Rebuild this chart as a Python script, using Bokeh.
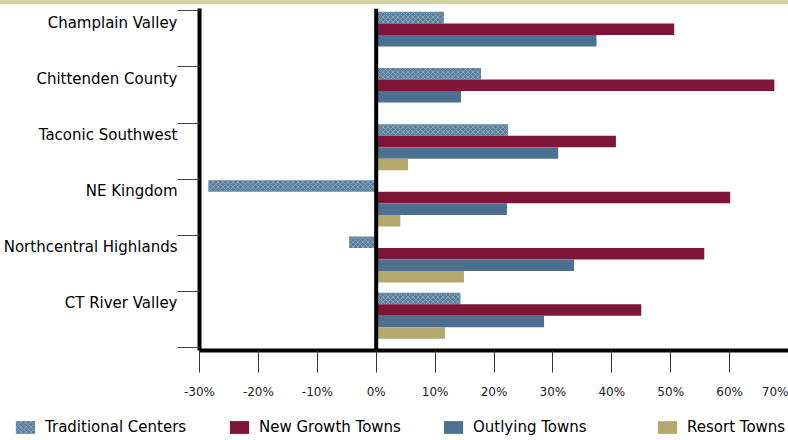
from bokeh.plotting import figure
from bokeh.models import (Range1d, FixedTicker, PrintfTickFormatter, Span, Legend,
                          LegendItem, Div, ColumnDataSource)
from bokeh.layouts import column, row
from bokeh.embed import file_html
from bokeh.resources import INLINE

# ---- data -------------------------------------------------------------
regions = ["Champlain Valley", "Chittenden County", "Taconic Southwest",
           "NE Kingdom", "Northcentral Highlands", "CT River Valley"]
series = ["Traditional Centers", "New Growth Towns", "Outlying Towns", "Resort Towns"]
traditional = [11.5, 17.8, 22.4, -28.5, -4.6, 14.3]
new_growth = [50.6, 67.6, 40.7, 60.1, 55.7, 45.0]
outlying = [37.4, 14.4, 30.9, 22.2, 33.6, 28.5]
resort = [0.0, 0.0, 5.4, 4.1, 14.9, 11.7]
x_ticks = [-30, -20, -10, 0, 10, 20, 30, 40, 50, 60, 70]

# ---- style ------------------------------------------------------------
colors = ["#5D809E", "#7E1638", "#4C7090", "#B4A86C"]
hatch = dict(hatch_pattern="x", hatch_color="#A9BCCB", hatch_scale=5,
             hatch_weight=1, hatch_alpha=0.5)
FONT = "DejaVu Sans"
bar_h = 0.205
bar_top = 0.02

p = figure(width=788, height=406, output_backend="svg", toolbar_location=None,
           x_range=Range1d(-30, 70), y_range=Range1d(6.05, -0.04),
           min_border_left=196, min_border_right=0, min_border_top=4,
           min_border_bottom=60, outline_line_color=None, margin=0)
p.xgrid.visible = False
p.ygrid.visible = False

for k, (name, vals) in enumerate(zip(series, [traditional, new_growth, outlying, resort])):
    ys = [i + bar_top + bar_h * (k + 0.5) for i in range(len(regions))]
    src = ColumnDataSource(dict(y=ys, right=vals, left=[0] * len(vals)))
    kw = hatch if k == 0 else {}
    p.hbar(y="y", left="left", right="right", height=bar_h, source=src,
           fill_color=colors[k], line_color=None, **kw)

p.add_layout(Span(location=0, dimension="height", line_color="black", line_width=4))

# y axis: labels near band tops, band boundaries as minor ticks
label_pos = [i + 0.21 for i in range(len(regions))]
yax = p.yaxis[0]
yax.ticker = FixedTicker(ticks=label_pos, minor_ticks=list(range(len(regions) + 1)))
yax.major_label_overrides = {lp: r for lp, r in zip(label_pos, regions)}
yax.major_tick_out = 0
yax.major_tick_in = 0
yax.minor_tick_out = 22
yax.minor_tick_in = 0
yax.minor_tick_line_color = "#444444"
yax.axis_line_width = 4
yax.axis_line_color = "black"
yax.major_label_standoff = 0
yax.major_label_text_font = FONT
yax.major_label_text_font_size = "15px"
yax.major_label_text_color = "black"

xax = p.xaxis[0]
xax.ticker = FixedTicker(ticks=x_ticks, minor_ticks=[])
xax.formatter = PrintfTickFormatter(format="%d%%")
xax.major_tick_out = 22
xax.major_tick_in = 0
xax.major_tick_line_color = "#333333"
xax.axis_line_width = 4
xax.axis_line_color = "black"
xax.major_label_standoff = 12
xax.major_label_text_font = FONT
xax.major_label_text_font_size = "12px"
xax.major_label_text_color = "#222222"

# ---- legend strip -----------------------------------------------------
lg = figure(width=788, height=30, output_backend="svg", toolbar_location=None,
            x_axis_type=None, y_axis_type=None, min_border=0,
            min_border_left=0, min_border_right=0, min_border_top=0, min_border_bottom=0,
            outline_line_color=None, margin=0,
            x_range=Range1d(0, 1), y_range=Range1d(0, 1))
lg.xgrid.visible = False
lg.ygrid.visible = False
items = []
for k, name in enumerate(series):
    kw = hatch if k == 0 else {}
    # swatch renderers: a point outside the visible range, only its legend glyph shows
    r = lg.hbar(y=[5], left=[5], right=[6], height=0.1, fill_color=colors[k],
                line_color=None, **kw)
    items.append(LegendItem(label=name, renderers=[r]))
legend = Legend(items=items, orientation="horizontal", location=(13, 4),
                glyph_width=24, glyph_height=16, label_standoff=8, spacing=12,
                label_width=170, padding=2, margin=0,
                border_line_color=None, background_fill_alpha=0,
                label_text_font=FONT, label_text_font_size="15px",
                label_text_color="black")
lg.add_layout(legend, "center")

top = Div(text="", width=788, height=4, margin=0,
          styles={"background-color": "#D7D3A1"})
layout = column(top, p, row(lg, margin=0), spacing=0, margin=0)

open("out.html", "w").write(file_html(layout, INLINE))
